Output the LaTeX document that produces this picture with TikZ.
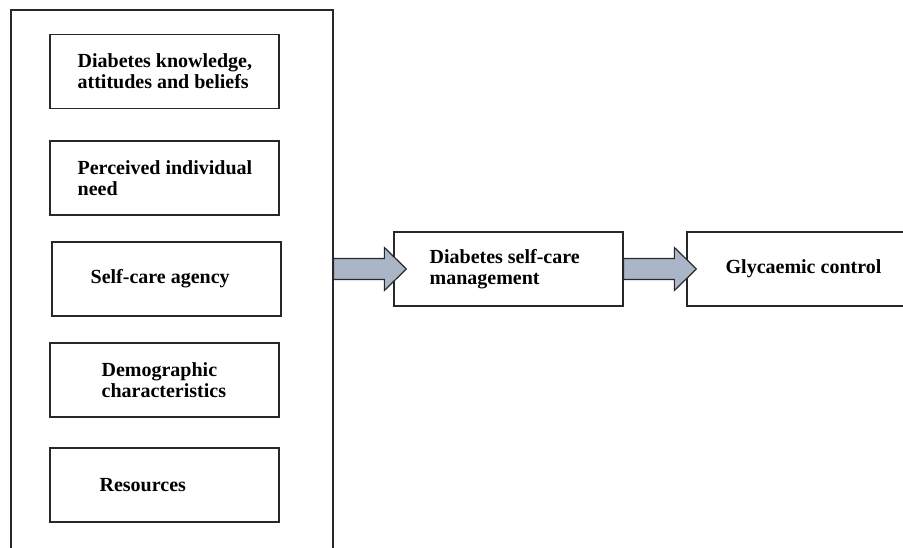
\documentclass[tikz,border=0pt]{standalone}
\usepackage{fontspec}
\setmainfont{Liberation Serif}
\usetikzlibrary{calc}
\definecolor{arrowblue}{RGB}{170,181,199}
\definecolor{edgegray}{RGB}{40,40,40}
\tikzset{
  box/.style={draw=edgegray, line width=0.95pt, rectangle, minimum width=171.75pt, minimum height=55.5pt, inner sep=0pt},
  lbl/.style={anchor=west, inner sep=0.75pt, font=\bfseries\fontsize{15}{16}\selectfont, align=left},
  blockarrow/.style={draw=edgegray, line width=0.9pt, fill=arrowblue, line join=miter},
}
\newcommand{\fatarrow}[2]{%
  \draw[blockarrow] ($(#1)+(0,-10.5)$) -- ($(#2)+(-22,-10.5)$) -- ($(#2)+(-22,-21.5)$) -- (#2) -- ($(#2)+(-22,21.5)$) -- ($(#2)+(-22,10.5)$) -- ($(#1)+(0,10.5)$) -- cycle;}

\begin{document}
\begin{tikzpicture}[x=0.75pt,y=0.75pt,yscale=-1,xscale=1]
    \clip (0,0) rectangle (903,548);
    
    %Shape: Rectangle [outer frame]
    \node[box, minimum width=241.5pt, minimum height=442.5pt] (frame) at (172,305) {};
    %Shape: Rectangle
    \node[box] (know) at (164.5,71.5) {};
    %Shape: Rectangle
    \node[box] (need) at (164.5,178) {};
    %Shape: Rectangle
    \node[box] (agency) at (166.5,279) {};
    %Shape: Rectangle
    \node[box] (demo) at (164.5,380) {};
    %Shape: Rectangle
    \node[box] (res) at (164.5,485) {};
    %Shape: Rectangle
    \node[box] (selfmgmt) at (508.5,269) {};
    %Shape: Rectangle
    \node[box] (glyc) at (801.5,269) {};
    
    % Text Node
    \node[lbl] (tknow) at ($(know.west)+(27,0)$) {Diabetes knowledge,\\attitudes and beliefs};
    % Text Node
    \node[lbl] (tneed) at ($(need.west)+(27,0)$) {Perceived individual\\need};
    % Text Node
    \node[lbl] (tagency) at ($(agency.west)+(38,0)$) {Self-care agency};
    % Text Node
    \node[lbl] (tdemo) at ($(demo.west)+(51,0)$) {Demographic\\characteristics};
    % Text Node
    \node[lbl] (tres) at ($(res.west)+(49,0)$) {Resources};
    % Text Node
    \node[lbl] (tselfmgmt) at ($(selfmgmt.west)+(35,0)$) {Diabetes self-care\\management};
    % Text Node
    \node[lbl] (tglyc) at ($(glyc.west)+(38,0)$) {Glycaemic control};
    
    %Shape: Right Arrow
    \coordinate (a1s) at (frame.east |- selfmgmt.west);
    \coordinate (a1t) at ($(selfmgmt.west)+(13,0)$);
    \fatarrow{a1s}{a1t}
    %Shape: Right Arrow
    \coordinate (a2t) at ($(glyc.west)+(10,0)$);
    \fatarrow{selfmgmt.east}{a2t}
    
\end{tikzpicture}
\end{document}
